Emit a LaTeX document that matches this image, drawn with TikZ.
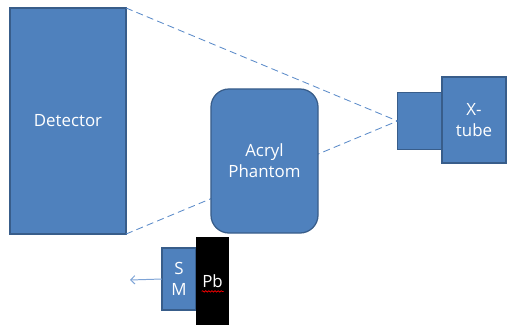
\documentclass[tikz,border=0pt]{standalone}
\usepackage{fontspec}
\setmainfont{Open Sans}
\usetikzlibrary{decorations.pathmorphing, arrows.meta}

\definecolor{boxblue}{HTML}{4F81BD}
\definecolor{boxedge}{HTML}{385D8A}
\definecolor{rayblue}{HTML}{5B8BC9}
\definecolor{arrowblue}{HTML}{7DA3D6}

\begin{document}
\begin{tikzpicture}[x=0.025cm, y=-0.025cm,
    part/.style={rectangle, draw=boxedge, fill=boxblue, line width=0.9pt, text=white, align=center, inner sep=0pt, outer sep=0pt, font=\fontsize{12}{15}\selectfont},
    ray/.style={rayblue, dashed, line width=0.6pt, dash pattern=on 5pt off 3pt}]
        \useasboundingbox (0,0) rectangle (508,325);

        % Nodes
        \node (detector) [part, minimum width=2.9cm, minimum height=5.65cm] at (68,121) {Detector};
        \node (window) [part, minimum width=1.125cm, minimum height=1.425cm] at (420,121) {};
        \node (xtube) [part, minimum width=1.6cm, minimum height=2.15cm] at (474,120) {X-\\tube};

        % Beam edges
        \draw[ray] (detector.north east) -- (window.west);
        \draw[ray] (detector.south east) -- (window.west);

        \node (phantom) [part, rounded corners=0.45cm, minimum width=2.675cm, minimum height=3.6cm] at (264.5,161) {Acryl\\Phantom};

        \node (sm) [part, minimum width=0.85cm, minimum height=1.55cm] at (179,279) {S\\M};
        \node (pb) [rectangle, fill=black, text=white, inner sep=0pt, outer sep=0pt, minimum width=0.825cm, minimum height=2.2cm, font=\fontsize{12}{15}\selectfont] at (212.5,281) {Pb};
        \draw[red, line width=0.5pt, decorate, decoration={snake, amplitude=0.5pt, segment length=2.2pt}] ([shift={(-0.27cm,-0.26cm)}]pb.center) -- ++(0.55cm,0);

        % Output arrow
        \coordinate (out) at (130,280);
        \draw[-{Straight Barb[length=3pt, width=6pt]}, arrowblue, line width=0.7pt] (sm.west) -- (out);
    \end{tikzpicture}
\end{document}
